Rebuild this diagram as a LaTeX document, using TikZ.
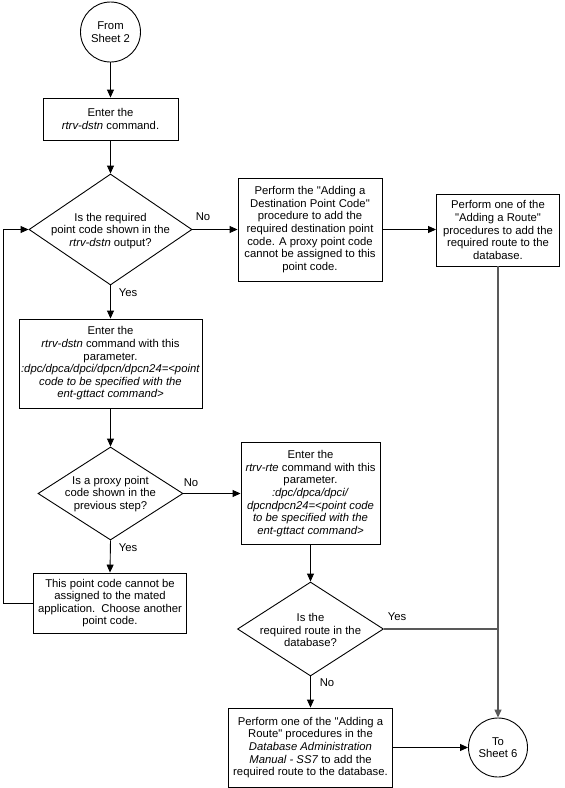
\documentclass[tikz,border=0pt]{standalone}
\usepackage{fontspec}
\setmainfont{Liberation Sans}[Ligatures=TeXOff]
\usetikzlibrary{shapes.geometric,arrows.meta}
\tikzset{
  base/.style={font=\fontsize{11.3}{12.6}\selectfont, align=center, inner sep=0pt},
  box/.style={base, draw, line width=0.9pt},
  term/.style={base, draw, circle, line width=0.9pt, minimum size=60pt},
  dia/.style={draw, diamond, line width=0.9pt, inner sep=0pt},
  txt/.style={base},
  lbl/.style={font=\fontsize{11.3}{12.6}\selectfont, inner sep=0pt},
  flow/.style={line width=0.9pt, -{Triangle[length=8pt,width=7pt]}},
  gline/.style={line width=1.3pt, draw=black!65},
}
\begin{document}
\begin{tikzpicture}[x=1pt,y=-1pt]
\useasboundingbox (0,0) rectangle (565,788);
\node[term] (c1) at (110.5,32) {From\\Sheet 2};
\node[box, minimum width=135pt, minimum height=42pt] (b1) at (110.5,119) {Enter the\\\textit{rtrv-dstn} command.};
\node[dia, minimum width=163pt, minimum height=111pt] (d1) at (110.5,229.5) {};
\node[txt] (d1t) at (110.5,231) {Is the required\\point code shown in the\\\textit{rtrv-dstn} output?};
\node[box, minimum width=144pt, minimum height=103pt] (dpc) at (310,229.5) {Perform the "Adding a\\Destination Point Code"\\procedure to add the\\required destination point\\code. A proxy point code\\cannot be assigned to this\\point code.};
\node[box, minimum width=123pt, minimum height=72pt] (route) at (498,230) {Perform one of the\\"Adding a Route"\\procedures to add the\\required route to the\\database.};
\node[box, minimum width=183pt, minimum height=89pt] (b2) at (110.5,363.5) {Enter the\\\textit{rtrv-dstn} command with this\\parameter.\\\textit{:dpc/dpca/dpci/dpcn/dpcn24=<point}\\\textit{code to be specified with the}\\\textit{ent-gttact command>}};
\node[dia, minimum width=145pt, minimum height=93pt] (d2) at (110.5,493.5) {};
\node[txt] (d2t) at (110.5,494) {Is a proxy point\\code shown in the\\previous step?};
\node[box, minimum width=139pt, minimum height=102pt] (rte) at (310.5,493.5) {Enter the\\\textit{rtrv-rte} command with this\\parameter.\\\textit{:dpc/dpca/dpci/}\\\textit{dpcndpcn24=<point code}\\\textit{to be specified with the}\\\textit{ent-gttact command>}};
\node[box, minimum width=153pt, minimum height=60pt] (pc) at (110,603) {This point code cannot be\\assigned to the mated\\application.\ \ Choose another\\point code.};
\node[dia, minimum width=146pt, minimum height=94pt] (d3) at (310.5,629) {};
\node[txt] (d3t) at (310.5,630) {Is the\\required route in the\\database?};
\node[box, minimum width=164pt, minimum height=79pt] (fin) at (310.5,747.5) {Perform one of the "Adding a\\Route" procedures in the\\\textit{Database Administration}\\\textit{Manual - SS7} to add the\\required route to the database.};
\node[term, minimum size=59pt] (c2) at (498,747.5) {To\\Sheet 6};
\coordinate (lp) at (3,0);
% labels
\node[lbl] (l1) at (203,217) {No};
\node[lbl] (l2) at (128,293) {Yes};
\node[lbl] (l3) at (191,483) {No};
\node[lbl] (l4) at (128,548) {Yes};
\node[lbl] (l5) at (397,617) {Yes};
\node[lbl] (l6) at (327,683) {No};
% connectors
\draw[flow] (c1) -- (b1);
\draw[flow] (b1) -- (d1.north);
\draw[flow] (d1.east) -- (d1.east -| dpc.west);
\draw[flow] (dpc.east) -- (dpc.east -| route.west);
\draw[flow] (d1.south) -- (b2.north);
\draw[flow] (b2.south) -- (d2.north);
\draw[flow] (d2.east) -- (d2.east -| rte.west);
\draw[flow] (d2.south) -- (pc.north);
\draw[flow] (pc.west) -- (pc.west -| lp) |- (d1.west);
\draw[flow] (rte.south) -- (d3.north);
\draw[flow] (d3.south) -- (fin.north);
\draw[gline] (d3.east) -- (d3.east -| c2);
\draw[gline, -{Triangle[length=8pt,width=7pt]}] (route.south) -- (c2.north);
\draw[flow] (fin.east) -- (c2.west);
\end{tikzpicture}
\end{document}
